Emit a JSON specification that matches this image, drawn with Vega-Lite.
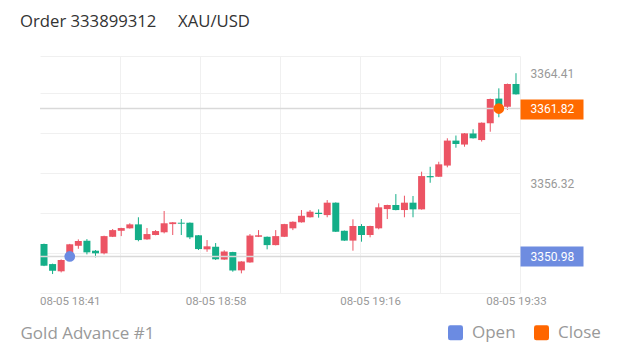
{
  "$schema": "https://vega.github.io/schema/vega-lite/v6.json",
  "width": 480,
  "height": 237,
  "autosize": {"type": "none"},
  "padding": {"left": 40, "top": 56, "right": 100, "bottom": 59},
  "background": "white",
  "title": {
    "text": "Order 333899312\u00a0\u00a0\u00a0\u00a0\u00a0XAU/USD",
    "anchor": "start",
    "dx": 0,
    "offset": 25,
    "font": "Open Sans",
    "fontSize": 16.7,
    "fontWeight": "normal",
    "color": "#333333"
  },
  "datasets": {
    "candles": [
      {"t": "2025-08-05T18:38", "o": 3351.89, "h": 3351.92, "l": 3350.27, "c": 3350.30},
      {"t": "2025-08-05T18:39", "o": 3350.42, "h": 3350.45, "l": 3349.69, "c": 3349.93},
      {"t": "2025-08-05T18:40", "o": 3349.89, "h": 3350.76, "l": 3349.81, "c": 3350.72},
      {"t": "2025-08-05T18:41", "o": 3351.21, "h": 3351.90, "l": 3351.00, "c": 3351.87},
      {"t": "2025-08-05T18:42", "o": 3351.76, "h": 3352.23, "l": 3351.54, "c": 3352.11},
      {"t": "2025-08-05T18:43", "o": 3352.13, "h": 3352.25, "l": 3351.13, "c": 3351.28},
      {"t": "2025-08-05T18:44", "o": 3351.40, "h": 3351.45, "l": 3350.91, "c": 3351.21},
      {"t": "2025-08-05T18:45", "o": 3351.21, "h": 3352.50, "l": 3351.13, "c": 3352.47},
      {"t": "2025-08-05T18:46", "o": 3352.42, "h": 3352.99, "l": 3352.40, "c": 3352.91},
      {"t": "2025-08-05T18:47", "o": 3352.86, "h": 3353.08, "l": 3352.47, "c": 3353.06},
      {"t": "2025-08-05T18:48", "o": 3353.04, "h": 3353.41, "l": 3353.02, "c": 3353.33},
      {"t": "2025-08-05T18:49", "o": 3353.33, "h": 3353.85, "l": 3352.09, "c": 3352.18},
      {"t": "2025-08-05T18:50", "o": 3352.23, "h": 3353.06, "l": 3352.20, "c": 3352.62},
      {"t": "2025-08-05T18:51", "o": 3352.55, "h": 3352.91, "l": 3352.53, "c": 3352.84},
      {"t": "2025-08-05T18:52", "o": 3352.75, "h": 3354.31, "l": 3352.67, "c": 3353.41},
      {"t": "2025-08-05T18:53", "o": 3353.35, "h": 3353.50, "l": 3352.55, "c": 3353.48},
      {"t": "2025-08-05T18:54", "o": 3353.45, "h": 3353.72, "l": 3352.55, "c": 3353.38},
      {"t": "2025-08-05T18:55", "o": 3353.45, "h": 3353.47, "l": 3352.25, "c": 3352.38},
      {"t": "2025-08-05T18:56", "o": 3352.53, "h": 3352.55, "l": 3351.45, "c": 3351.52},
      {"t": "2025-08-05T18:57", "o": 3351.50, "h": 3352.18, "l": 3351.32, "c": 3351.72},
      {"t": "2025-08-05T18:58", "o": 3351.69, "h": 3351.96, "l": 3350.72, "c": 3350.77},
      {"t": "2025-08-05T18:59", "o": 3350.75, "h": 3351.43, "l": 3350.73, "c": 3351.34},
      {"t": "2025-08-05T19:00", "o": 3351.30, "h": 3351.32, "l": 3349.86, "c": 3349.95},
      {"t": "2025-08-05T19:01", "o": 3349.96, "h": 3350.63, "l": 3349.74, "c": 3350.61},
      {"t": "2025-08-05T19:02", "o": 3350.54, "h": 3352.62, "l": 3350.52, "c": 3352.51},
      {"t": "2025-08-05T19:03", "o": 3352.42, "h": 3352.91, "l": 3352.40, "c": 3352.53},
      {"t": "2025-08-05T19:04", "o": 3352.42, "h": 3352.44, "l": 3351.50, "c": 3351.81},
      {"t": "2025-08-05T19:05", "o": 3351.81, "h": 3352.91, "l": 3351.79, "c": 3352.47},
      {"t": "2025-08-05T19:06", "o": 3352.42, "h": 3353.37, "l": 3352.40, "c": 3353.35},
      {"t": "2025-08-05T19:07", "o": 3353.04, "h": 3353.55, "l": 3352.91, "c": 3353.52},
      {"t": "2025-08-05T19:08", "o": 3353.48, "h": 3354.38, "l": 3353.46, "c": 3353.96},
      {"t": "2025-08-05T19:09", "o": 3353.85, "h": 3354.38, "l": 3353.83, "c": 3354.26},
      {"t": "2025-08-05T19:10", "o": 3354.18, "h": 3354.43, "l": 3353.82, "c": 3354.09},
      {"t": "2025-08-05T19:11", "o": 3354.01, "h": 3355.11, "l": 3353.85, "c": 3354.92},
      {"t": "2025-08-05T19:12", "o": 3354.92, "h": 3354.94, "l": 3352.77, "c": 3352.79},
      {"t": "2025-08-05T19:13", "o": 3352.86, "h": 3352.88, "l": 3352.12, "c": 3352.14},
      {"t": "2025-08-05T19:14", "o": 3352.14, "h": 3353.70, "l": 3351.40, "c": 3353.21},
      {"t": "2025-08-05T19:15", "o": 3353.21, "h": 3353.35, "l": 3352.06, "c": 3352.55},
      {"t": "2025-08-05T19:16", "o": 3352.55, "h": 3353.23, "l": 3352.38, "c": 3353.21},
      {"t": "2025-08-05T19:17", "o": 3353.04, "h": 3354.87, "l": 3352.97, "c": 3354.58},
      {"t": "2025-08-05T19:18", "o": 3354.45, "h": 3354.77, "l": 3353.72, "c": 3354.75},
      {"t": "2025-08-05T19:19", "o": 3354.75, "h": 3355.55, "l": 3354.36, "c": 3354.38},
      {"t": "2025-08-05T19:20", "o": 3354.38, "h": 3355.43, "l": 3353.85, "c": 3354.92},
      {"t": "2025-08-05T19:21", "o": 3354.92, "h": 3355.41, "l": 3353.85, "c": 3354.43},
      {"t": "2025-08-05T19:22", "o": 3354.43, "h": 3357.19, "l": 3354.41, "c": 3356.87},
      {"t": "2025-08-05T19:23", "o": 3356.87, "h": 3357.55, "l": 3356.38, "c": 3356.78},
      {"t": "2025-08-05T19:24", "o": 3356.82, "h": 3357.92, "l": 3356.80, "c": 3357.73},
      {"t": "2025-08-05T19:25", "o": 3357.64, "h": 3359.64, "l": 3357.51, "c": 3359.47},
      {"t": "2025-08-05T19:26", "o": 3359.47, "h": 3359.84, "l": 3358.95, "c": 3359.22},
      {"t": "2025-08-05T19:27", "o": 3359.18, "h": 3360.02, "l": 3359.02, "c": 3360.00},
      {"t": "2025-08-05T19:28", "o": 3359.99, "h": 3360.30, "l": 3359.62, "c": 3359.64},
      {"t": "2025-08-05T19:29", "o": 3359.51, "h": 3360.80, "l": 3359.40, "c": 3360.78},
      {"t": "2025-08-05T19:30", "o": 3360.74, "h": 3362.55, "l": 3360.12, "c": 3362.52},
      {"t": "2025-08-05T19:31", "o": 3362.55, "h": 3363.30, "l": 3361.18, "c": 3362.08},
      {"t": "2025-08-05T19:32", "o": 3361.95, "h": 3363.65, "l": 3361.71, "c": 3363.62},
      {"t": "2025-08-05T19:33", "o": 3363.62, "h": 3364.41, "l": 3362.84, "c": 3362.86}
    ],
    "orders": [
      {"t": "2025-08-05T18:41", "p": 3350.98, "type": "Open"},
      {"t": "2025-08-05T19:31", "p": 3361.82, "type": "Close"}
    ]
  },
  "resolve": {"axis": {"x": "independent", "y": "independent"}},
  "layer": [
    {
      "data": {"name": "candles"},
      "mark": {"type": "rule", "strokeWidth": 1},
      "encoding": {
        "x": {
          "field": "t", "type": "temporal",
          "scale": {"padding": 0, "domain": [
            {"year": 2025, "month": 8, "date": 5, "hours": 18, "minutes": 37, "seconds": 32},
            {"year": 2025, "month": 8, "date": 5, "hours": 19, "minutes": 33, "seconds": 28}
          ]},
          "axis": {
            "orient": "top", "title": null, "labels": false, "ticks": false, "domain": false,
            "grid": true, "gridColor": "#f0f0f0", "gridWidth": 1,
            "values": [
              {"year": 2025, "month": 8, "date": 5, "hours": 18, "minutes": 46, "seconds": 52},
              {"year": 2025, "month": 8, "date": 5, "hours": 18, "minutes": 56, "seconds": 11},
              {"year": 2025, "month": 8, "date": 5, "hours": 19, "minutes": 5, "seconds": 30},
              {"year": 2025, "month": 8, "date": 5, "hours": 19, "minutes": 14, "seconds": 50},
              {"year": 2025, "month": 8, "date": 5, "hours": 19, "minutes": 24, "seconds": 9},
              {"year": 2025, "month": 8, "date": 5, "hours": 19, "minutes": 33, "seconds": 27}
            ]
          }
        },
        "y": {
          "field": "l", "type": "quantitative",
          "scale": {"domain": [3348.30, 3365.67], "nice": false, "zero": false, "padding": 0},
          "axis": {
            "orient": "left", "title": null, "labels": false, "ticks": false, "domain": false,
            "grid": true, "gridColor": "#f0f0f0", "gridWidth": 1,
            "values": [3365.67, 3362.96, 3360.03, 3357.09, 3354.16, 3351.23, 3348.30]
          }
        },
        "y2": {"field": "h"},
        "color": {"condition": {"test": "datum.c > datum.o", "value": "#ec5464"}, "value": "#14ae88"}
      }
    },
    {
      "data": {"name": "candles"},
      "mark": {"type": "bar", "width": 7},
      "encoding": {
        "x": {
          "field": "t", "type": "temporal",
          "axis": {
            "orient": "bottom", "grid": false, "ticks": false, "domain": false,
            "format": "%m-%d %H:%M", "labelFlush": false, "labelOverlap": false,
            "labelFont": "Roboto", "labelFontSize": 11.5, "labelColor": "#999999", "labelPadding": 2,
            "values": [
              {"year": 2025, "month": 8, "date": 5, "hours": 18, "minutes": 41},
              {"year": 2025, "month": 8, "date": 5, "hours": 18, "minutes": 58},
              {"year": 2025, "month": 8, "date": 5, "hours": 19, "minutes": 16},
              {"year": 2025, "month": 8, "date": 5, "hours": 19, "minutes": 33}
            ],
            "title": "Gold Advance #1",
            "titleFont": "Open Sans", "titleFontSize": 17, "titleFontWeight": "normal",
            "titleColor": "#999999", "titleAnchor": "start", "titleAlign": "left",
            "titleBaseline": "middle", "titleX": -20, "titleY": 40
          }
        },
        "y": {
          "field": "o", "type": "quantitative",
          "axis": {
            "orient": "right", "title": null, "grid": false, "domain": false,
            "values": [3364.41, 3361.82, 3356.32, 3350.98],
            "format": ".2f",
            "ticks": true, "tickSize": 63, "tickWidth": 20,
            "tickColor": {"condition": [
              {"test": "datum.value === 3361.82", "value": "#ff6a00"},
              {"test": "datum.value === 3350.98", "value": "#6e8ce0"}
            ], "value": "rgba(0,0,0,0)"},
            "labelColor": {"condition": [
              {"test": "datum.value === 3361.82", "value": "#ffffff"},
              {"test": "datum.value === 3350.98", "value": "#ffffff"}
            ], "value": "#999999"},
            "labelPadding": -53, "labelFont": "Roboto", "labelFontSize": 12,
            "labelOverlap": false, "labelFlush": false
          }
        },
        "y2": {"field": "c"},
        "color": {"condition": {"test": "datum.c > datum.o", "value": "#ec5464"}, "value": "#14ae88"}
      }
    },
    {
      "data": {"name": "orders"},
      "mark": {"type": "rule", "color": "#d9d9d9", "strokeWidth": 1.5},
      "encoding": {
        "y": {"field": "p", "type": "quantitative", "axis": null}
      }
    },
    {
      "data": {"name": "orders"},
      "mark": {"type": "point", "filled": true, "size": 115, "opacity": 1, "shape": "circle"},
      "encoding": {
        "x": {"field": "t", "type": "temporal", "axis": null},
        "y": {"field": "p", "type": "quantitative", "axis": null},
        "fill": {
          "field": "type", "type": "nominal",
          "scale": {"domain": ["Open", "Close"], "range": ["#6b8be2", "#ff6600"]},
          "legend": {
            "orient": "none", "legendX": 407, "legendY": 268, "direction": "horizontal",
            "title": null, "padding": 0,
            "symbolType": "M -0.7 -1 H 0.7 Q 1 -1 1 -0.7 V 0.7 Q 1 1 0.7 1 H -0.7 Q -1 1 -1 0.7 V -0.7 Q -1 -1 -0.7 -1 Z",
            "symbolSize": 225, "symbolStrokeWidth": 0, "symbolOpacity": 1,
            "labelFont": "Open Sans", "labelFontSize": 17, "labelColor": "#999999",
            "labelOffset": 8, "columnPadding": 17
          }
        }
      }
    }
  ],
  "config": {
    "view": {"stroke": null},
    "font": "Roboto"
  }
}
